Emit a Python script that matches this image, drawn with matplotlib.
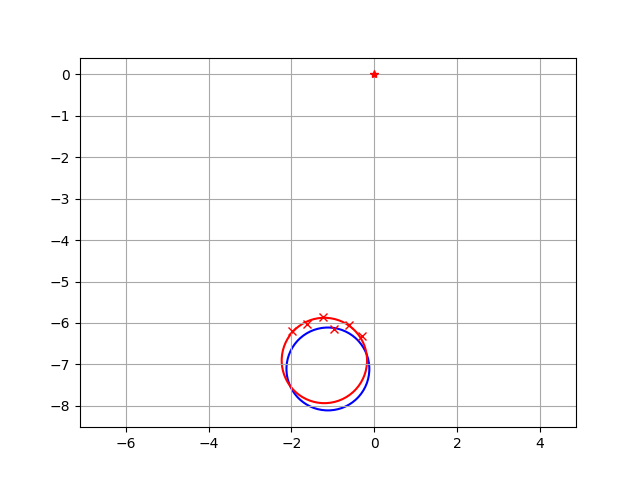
import matplotlib

matplotlib.use("Agg")
import matplotlib.pyplot as plt
from matplotlib.patches import Circle

# circles: center x, center y, radius
blue_center = (-1.12, -7.11)
blue_radius = 1.0
red_center = (-1.205, -6.905)
red_radius = 1.03

# red cross markers
cross_x = [-1.99, -1.63, -1.23, -0.97, -0.62, -0.30]
cross_y = [-6.20, -6.02, -5.85, -6.15, -6.04, -6.31]

# red star marker
star_x = [0.0]
star_y = [0.0]

fig, ax = plt.subplots(figsize=(6.4, 4.8), dpi=100)

ax.add_patch(Circle(blue_center, blue_radius, fill=False, color="blue", linewidth=1.5))
ax.add_patch(Circle(red_center, red_radius, fill=False, color="red", linewidth=1.5))
ax.plot(cross_x, cross_y, "rx", linestyle="none")
ax.plot(star_x, star_y, "r*", linestyle="none")

ax.axis("equal")
ax.grid(True, color="#a8a8a8", linewidth=0.8)

fig.savefig("out.png")
